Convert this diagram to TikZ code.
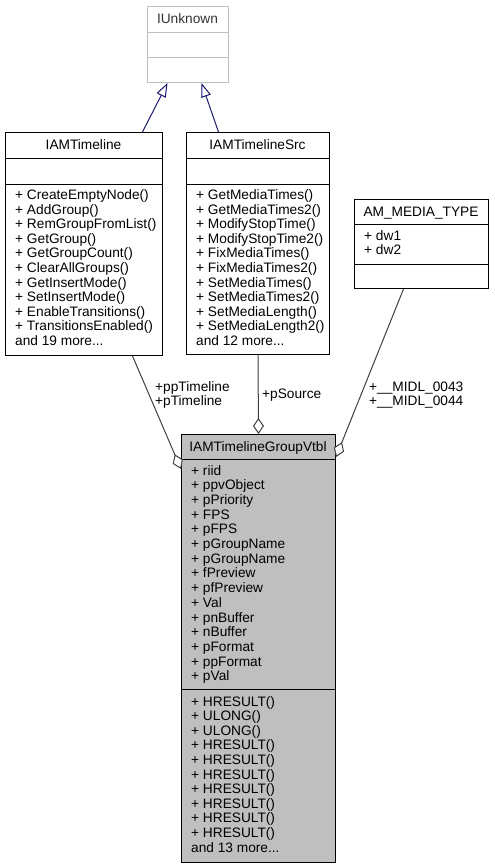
\documentclass[tikz,border=0pt]{standalone}
\usepackage{fontspec}
\setmainfont{Liberation Sans}
\usetikzlibrary{arrows.meta}
\definecolor{edgeblue}{RGB}{25,25,112}
\definecolor{edgegrey}{RGB}{64,64,64}
\definecolor{boxgrey}{RGB}{191,191,191}
\tikzset{
  cls/.style={draw, fill=white, anchor=north west, inner sep=0pt, line width=1pt},
  ttl/.style={anchor=base, inner sep=0pt, font=\fontsize{13.7}{14.6}\selectfont},
  mbr/.style={anchor=base west, inner sep=0pt, font=\fontsize{13.7}{14.6}\selectfont},
  lbl/.style={anchor=base west, inner sep=0pt, font=\fontsize{13.7}{14.6}\selectfont},
  inherit/.style={draw=edgeblue, line width=1pt, -{Triangle[open, fill=white, length=14pt, width=10pt]}},
  aggr/.style={draw=edgegrey, line width=1pt, -{Diamond[open, fill=white, length=16pt, width=11pt]}},
}

\begin{document}
\begin{tikzpicture}[x=1pt, y=-1pt]
\useasboundingbox (0,0) rectangle (495,868);

%IUnknown:
\node[cls, draw=boxgrey, minimum width=81pt, minimum height=76pt] (iu) at (147,6) {};
\draw[boxgrey, line width=1pt] (iu.north west) ++(0,26) -- ++(81,0);
\draw[boxgrey, line width=1pt] (iu.north west) ++(0,51) -- ++(81,0);
\node[ttl, text=black!80] (iu-t) at (187.5,23.8) {IUnknown};

%IAMTimeline:
\node[cls, minimum width=157pt, minimum height=223pt] (tl) at (5,132) {};
\draw[line width=1pt] (tl.north west) ++(0,26) -- ++(157,0);
\draw[line width=1pt] (tl.north west) ++(0,52) -- ++(157,0);
\node[ttl] (tl-t) at (83.5,149.8) {IAMTimeline};
\foreach \m [count=\i from 0] in {CreateEmptyNode(), AddGroup(), RemGroupFromList(),
  GetGroup(), GetGroupCount(), ClearAllGroups(), GetInsertMode(), SetInsertMode(),
  EnableTransitions(), TransitionsEnabled()}
  \node[mbr] (tl-m\i) at (15,199.5+14.6*\i) {+ \m};
\node[mbr] (tl-more) at (15,345.5) {and 19 more...};

%IAMTimelineSrc:
\node[cls, minimum width=143pt, minimum height=222pt] (ts) at (186,132) {};
\draw[line width=1pt] (ts.north west) ++(0,26) -- ++(143,0);
\draw[line width=1pt] (ts.north west) ++(0,52) -- ++(143,0);
\node[ttl] (ts-t) at (257.5,149.8) {IAMTimelineSrc};
\foreach \m [count=\i from 0] in {GetMediaTimes(), GetMediaTimes2(), ModifyStopTime(),
  ModifyStopTime2(), FixMediaTimes(), FixMediaTimes2(), SetMediaTimes(),
  SetMediaTimes2(), SetMediaLength(), SetMediaLength2()}
  \node[mbr] (ts-m\i) at (196,199.5+14.6*\i) {+ \m};
\node[mbr] (ts-more) at (196,345.5) {and 12 more...};

%AM_MEDIA_TYPE:
\node[cls, minimum width=134pt, minimum height=89pt] (mt) at (354,199) {};
\draw[line width=1pt] (mt.north west) ++(0,25) -- ++(134,0);
\draw[line width=1pt] (mt.north west) ++(0,65) -- ++(134,0);
\node[ttl] (mt-t) at (421,216.3) {AM\_MEDIA\_TYPE};
\node[mbr] (mt-a0) at (364,240) {+ dw1};
\node[mbr] (mt-a1) at (364,254.6) {+ dw2};

%IAMTimelineGroupVtbl:
\node[cls, fill=boxgrey, minimum width=154pt, minimum height=428pt] (gv) at (181,434) {};
\draw[line width=1pt] (gv.north west) ++(0,25) -- ++(154,0);
\draw[line width=1pt] (gv.north west) ++(0,255) -- ++(154,0);
\node[ttl] (gv-t) at (258,451.3) {IAMTimelineGroupVtbl};
\foreach \m [count=\i from 0] in {riid, ppvObject, pPriority, FPS, pFPS, pGroupName,
  pGroupName, fPreview, pfPreview, Val, pnBuffer, nBuffer, pFormat, ppFormat, pVal}
  \node[mbr] (gv-a\i) at (191,475+14.7*\i) {+ \m};
\foreach \m [count=\i from 0] in {HRESULT(), ULONG(), ULONG(), HRESULT(), HRESULT(),
  HRESULT(), HRESULT(), HRESULT(), HRESULT(), HRESULT()}
  \node[mbr] (gv-m\i) at (191,706+14.6*\i) {+ \m};
\node[mbr] (gv-more) at (191,852) {and 13 more...};

%inheritance
\draw[inherit] ([xshift=58.5pt]tl.north) -- ([xshift=-20.5pt]iu.south);
\draw[inherit] ([xshift=-39.5pt]ts.north) -- ([xshift=13.5pt]iu.south);

%aggregation
\draw[aggr] ([xshift=48.5pt]tl.south) -- ([yshift=-35pt]gv.north west);
\draw[aggr] (ts.south) -- (gv.north);
\draw[aggr] ([xshift=-18pt]mt.south) -- ([yshift=-23pt]gv.north east);

\node[lbl] (l-tl1) at (155,391) {+ppTimeline};
\node[lbl] (l-tl2) at (155,405.6) {+pTimeline};
\node[lbl] (l-ts) at (262,398) {+pSource};
\node[lbl] (l-mt1) at (369,391) {+\_\_MIDL\_0043};
\node[lbl] (l-mt2) at (369,405.6) {+\_\_MIDL\_0044};

\end{tikzpicture}
\end{document}
